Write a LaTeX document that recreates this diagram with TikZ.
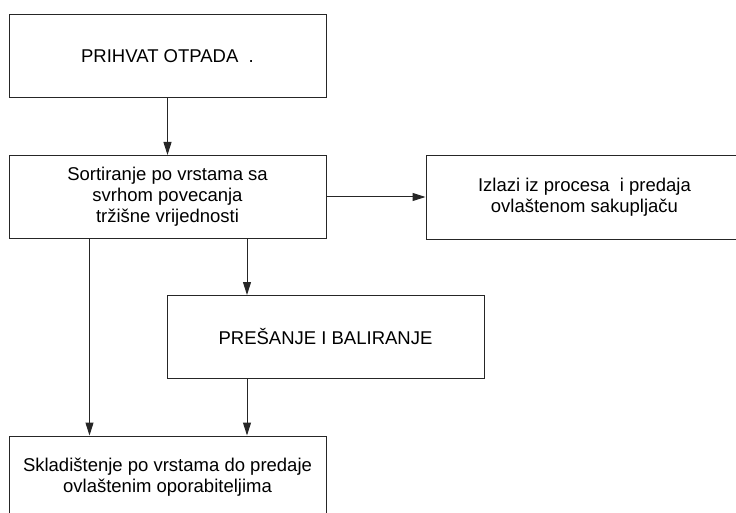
\documentclass[tikz,border=0pt]{standalone}
\usepackage{fontspec}
\setmainfont{Liberation Sans}
\usetikzlibrary{arrows.meta}

\begin{document}
\begin{tikzpicture}[
    x=1pt,
    y=-1pt,
    >={Triangle[length=13pt,width=8pt]},
    blok/.style={
        draw=black!85,
        line width=1pt,
        minimum width=317pt,
        minimum height=83pt,
        align=center,
        font=\fontsize{18.5}{21}\selectfont
    },
    veza/.style={
        ->,
        line width=1pt,
        black!85
    }
]

    \clip (0,0) rectangle (736,513);

    % Prihvat
    \node[blok] (prihvat) at (167.5,56.5) {PRIHVAT OTPADA~~.};

    % Sortiranje
    \node[blok] (sort) at (167.5,197) {Sortiranje po vrstama sa\\svrhom povecanja\\tržišne vrijednosti};

    % Izlazi
    \node[blok] (izlaz) at (584.5,197.5) {Izlazi iz procesa~ i predaja\\ovlaštenom sakupljaču};

    % Prešanje
    \node[blok] (presa) at (325.5,337) {PREŠANJE I BALIRANJE};

    % Skladištenje
    \node[blok] (sklad) at (167.5,477.5) {Skladištenje po vrstama do predaje\\ovlaštenim oporabiteljima};

    % Veze
    \draw[veza] (prihvat) -- (sort);

    \draw[veza] (sort.east) -- (sort.east -| izlaz.west);

    \draw[veza] ([xshift=-78pt]sort.south) -- ([xshift=-78pt]sklad.north);

    \draw[veza] ([xshift=79.5pt]sort.south) -- ([xshift=-78.5pt]presa.north);

    \draw[veza] ([xshift=-78.5pt]presa.south) -- ([xshift=79.5pt]sklad.north);

\end{tikzpicture}
\end{document}
